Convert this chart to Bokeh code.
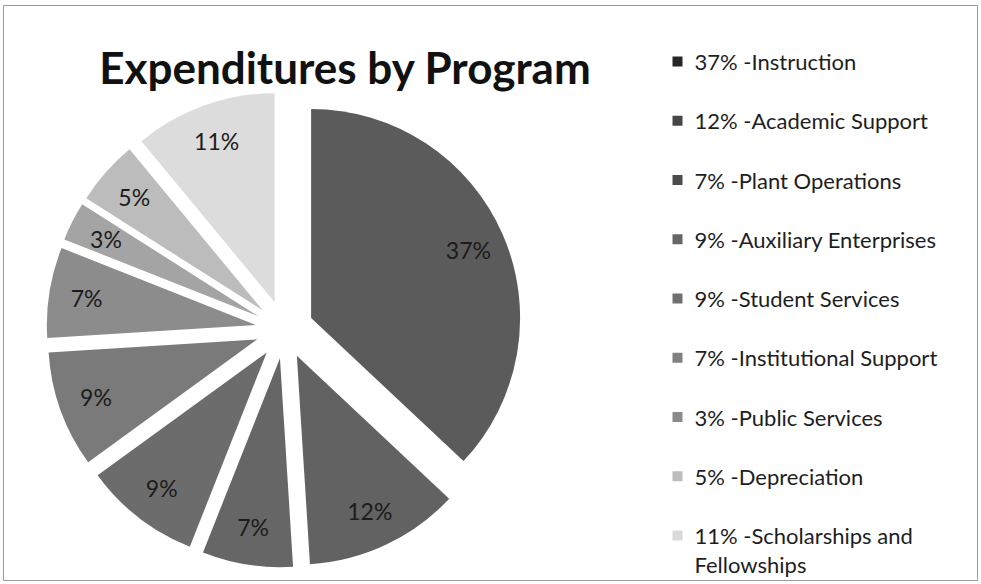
import math
from bokeh.plotting import figure
from bokeh.models import Range1d, ColumnDataSource
from bokeh.core.properties import value
from bokeh.embed import file_html
from bokeh.resources import INLINE

# ---- data ----
title_text = "Expenditures by Program"
categories = ["Instruction", "Academic Support", "Plant Operations",
              "Auxiliary Enterprises", "Student Services", "Institutional Support",
              "Public Services", "Depreciation", "Scholarships and Fellowships"]
percents = [37, 12, 7, 9, 9, 7, 3, 5, 11]
slice_colors = ["#5b5b5b", "#626262", "#666666", "#6c6c6c", "#7a7a7a",
                "#8c8c8c", "#a4a4a4", "#bcbcbc", "#dcdcdc"]
legend_colors = ["#262626", "#464646", "#4c4c4c", "#666666", "#707070",
                 "#808080", "#8a8a8a", "#bdbdbd", "#dadada"]

W, H = 980, 582
FONT = "Lato"


def px(x):
    return x


def py(y):
    return H - y


p = figure(width=W, height=H, x_range=Range1d(0, W), y_range=Range1d(0, H),
           output_backend="svg", toolbar_location=None, min_border=0)
p.axis.visible = False
p.grid.visible = False
p.outline_line_color = None
p.background_fill_color = "white"
p.border_fill_color = "white"

# frame
p.quad(left=[px(3)], right=[px(977)], top=[py(5)], bottom=[py(580)],
       fill_color=None, line_color="#9a9a9a", line_width=1)

# ---- pie (exploded) ----
cx, cy = px(284), py(329)
R = 209
d = 29
total = sum(percents)
cum = 0
wx, wy, sa, ea, lx, ly, lt = [], [], [], [], [], [], []
for v in percents:
    a0 = cum / total * 360.0
    a1 = (cum + v) / total * 360.0
    cum += v
    mid = math.radians(90 - (a0 + a1) / 2)
    vx = cx + d * math.cos(mid)
    vy = cy + d * math.sin(mid)
    wx.append(vx)
    wy.append(vy)
    sa.append(math.radians(90 - a1))
    ea.append(math.radians(90 - a0))
    lx.append(vx + 0.82 * R * math.cos(mid))
    ly.append(vy + 0.82 * R * math.sin(mid))
    lt.append(f"{v}%")

src = ColumnDataSource(dict(x=wx, y=wy, sa=sa, ea=ea, color=slice_colors))
p.wedge(x="x", y="y", radius=R, start_angle="sa", end_angle="ea",
        direction="anticlock", fill_color="color", line_color=None, source=src)

lsrc = ColumnDataSource(dict(x=lx, y=ly, t=lt))
p.text(x="x", y="y", text="t", source=lsrc, text_font=value(FONT),
       text_font_size="23px", text_color="#1c1c1c", text_align="center",
       text_baseline="middle")

# ---- title ----
p.text(x=[px(345)], y=[py(66)], text=[title_text], text_font=value(FONT),
       text_font_size="44px", text_font_style="bold", text_color="#111111",
       text_align="center", text_baseline="middle")

# ---- legend ----
row0 = 61
step = 59.25
mk_x, mk_y = [], []
tx, ty, tt = [], [], []
for i, (c, v) in enumerate(zip(categories, percents)):
    yy = row0 + i * step
    mk_x.append(px(677))
    mk_y.append(py(yy))
    label = f"{v}% -{c}".replace(" and ", " and\n")
    for k, line in enumerate(label.split("\n")):
        tx.append(px(694))
        ty.append(py(yy + k * 29))
        tt.append(line)

p.scatter(x=mk_x, y=mk_y, marker="square", size=10, fill_color=legend_colors,
          line_color=None)
p.text(x=tx, y=ty, text=tt, text_font=value(FONT), text_font_size="22px",
       text_color="#1e1e1e", text_align="left", text_baseline="middle")

open("out.html", "w").write(file_html(p, INLINE))
